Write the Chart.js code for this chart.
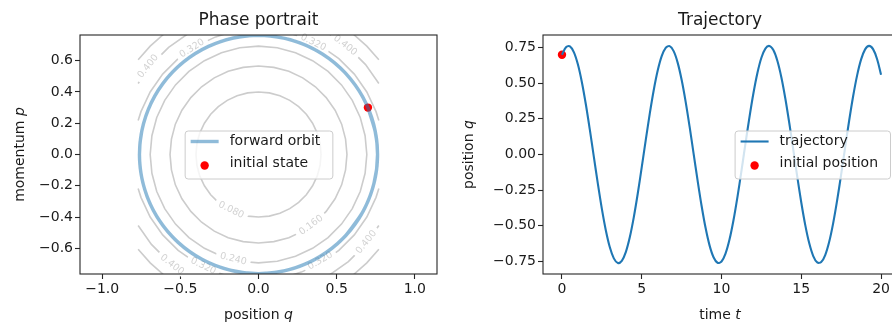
<!DOCTYPE html>
<html>
<head>
<meta charset="utf-8">
<script src="https://cdn.jsdelivr.net/npm/chart.js@4/dist/chart.umd.min.js"></script>
<style>
  html, body { margin: 0; padding: 0; background: #fff; overflow: hidden; width: 892px; height: 322px; }
  #phase { position: absolute; left: 0; top: 0; }
  #traj { position: absolute; left: 446px; top: 0; }
</style>
</head>
<body>
<canvas id="phase" width="446" height="322"></canvas>
<canvas id="traj" width="460" height="322"></canvas>
<script>
// sampled trajectory (time, position q, momentum p)
const timeT = [0,0.25,0.5,0.75,1,1.25,1.5,1.75,2,2.25,2.5,2.75,3,3.25,3.5,3.75,4,4.25,4.5,4.75,
  5,5.25,5.5,5.75,6,6.25,6.5,6.75,7,7.25,7.5,7.75,8,8.25,8.5,8.75,9,9.25,9.5,9.75,
  10,10.25,10.5,10.75,11,11.25,11.5,11.75,12,12.25,12.5,12.75,13,13.25,13.5,13.75,14,14.25,14.5,14.75,
  15,15.25,15.5,15.75,16,16.25,16.5,16.75,17,17.25,17.5,17.75,18,18.25,18.5,18.75,19,19.25,19.5,19.75,20];
const posQ = [0.7,0.7525,0.7581,0.7167,0.6307,0.5054,0.3488,0.1704,
  -0.0185,-0.2063,-0.3813,-0.5325,-0.6507,-0.7283,-0.7608,-0.7459,
  -0.6846,-0.5808,-0.4408,-0.2735,-0.0891,0.1008,0.2844,0.4504,
  0.5883,0.6897,0.7481,0.7601,0.7248,0.6445,0.524,0.371,
  0.195,0.0068,-0.1819,-0.3592,-0.5142,-0.6372,-0.7206,-0.7592,
  -0.7506,-0.6953,-0.5968,-0.4612,-0.2969,-0.1142,0.0757,0.2608,
  0.4297,0.5719,0.6786,0.743,0.7613,0.7322,0.6576,0.5421,
  0.3929,0.2193,0.032,-0.1572,-0.3367,-0.4952,-0.623,-0.712,
  -0.7567,-0.7544,-0.7052,-0.6122,-0.481,-0.32,-0.1391,0.0505,
  0.2369,0.4086,0.5549,0.6667,0.7371,0.7616,0.7387,0.67,0.5595];
const momP = [0.3,0.1175,-0.0723,-0.2576,-0.4269,-0.5697,-0.677,-0.7423,
  -0.7614,-0.7331,-0.6593,-0.5445,-0.3958,-0.2225,-0.0354,0.1539,
  0.3337,0.4927,0.621,0.7108,0.7563,0.7549,0.7065,0.6142,
  0.4836,0.3231,0.1424,-0.0471,-0.2337,-0.4058,-0.5526,-0.6651,
  -0.7362,-0.7615,-0.7395,-0.6716,-0.5618,-0.4172,-0.2465,-0.0606,
  0.1291,0.3108,0.4731,0.6061,0.7013,0.753,0.7578,0.7155,
  0.6288,0.5029,0.3458,0.1671,-0.0219,-0.2095,-0.3842,-0.5349,
  -0.6524,-0.7293,-0.7609,-0.7452,-0.6831,-0.5786,-0.4381,-0.2703,
  -0.0858,0.1041,0.2875,0.4531,0.5904,0.6911,0.7488,0.7599,
  0.7238,0.6427,0.5216,0.3681,0.1917,0.0034,-0.1851,-0.3621,-0.5166];
const initialState = [0.7, 0.3];

// energy contour lines, [q, p] points
const level008 = [[0.4,0],[0.394,0.069],[0.376,0.137],[0.346,0.2],[0.306,0.257],[0.257,0.306],[0.2,0.346],[0.137,0.376],[0.069,0.394],[0,0.4],
  [-0.069,0.394],[-0.137,0.376],[-0.2,0.346],[-0.257,0.306],[-0.306,0.257],[-0.346,0.2],[-0.376,0.137],[-0.394,0.069],[-0.4,0],
  [-0.394,-0.069],[-0.376,-0.137],[-0.346,-0.2],[-0.306,-0.257],[-0.257,-0.306],[-0.2,-0.346],[-0.137,-0.376],[-0.069,-0.394],[0,-0.4],
  [0.069,-0.394],[0.137,-0.376],[0.2,-0.346],[0.257,-0.306],[0.306,-0.257],[0.346,-0.2],[0.376,-0.137],[0.394,-0.069],[0.4,0]];
const level016 = [[0.566,0],[0.557,0.098],[0.532,0.194],[0.49,0.283],[0.433,0.364],[0.364,0.433],[0.283,0.49],[0.194,0.532],[0.098,0.557],[0,0.566],
  [-0.098,0.557],[-0.194,0.532],[-0.283,0.49],[-0.364,0.433],[-0.433,0.364],[-0.49,0.283],[-0.532,0.194],[-0.557,0.098],[-0.566,0],
  [-0.557,-0.098],[-0.532,-0.194],[-0.49,-0.283],[-0.433,-0.364],[-0.364,-0.433],[-0.283,-0.49],[-0.194,-0.532],[-0.098,-0.557],[0,-0.566],
  [0.098,-0.557],[0.194,-0.532],[0.283,-0.49],[0.364,-0.433],[0.433,-0.364],[0.49,-0.283],[0.532,-0.194],[0.557,-0.098],[0.566,0]];
const level024 = [[0.693,0],[0.682,0.12],[0.651,0.237],[0.6,0.346],[0.531,0.445],[0.445,0.531],[0.346,0.6],[0.237,0.651],[0.12,0.682],[0,0.693],
  [-0.12,0.682],[-0.237,0.651],[-0.346,0.6],[-0.445,0.531],[-0.531,0.445],[-0.6,0.346],[-0.651,0.237],[-0.682,0.12],[-0.693,0],
  [-0.682,-0.12],[-0.651,-0.237],[-0.6,-0.346],[-0.531,-0.445],[-0.445,-0.531],[-0.346,-0.6],[-0.237,-0.651],[-0.12,-0.682],[0,-0.693],
  [0.12,-0.682],[0.237,-0.651],[0.346,-0.6],[0.445,-0.531],[0.531,-0.445],[0.6,-0.346],[0.651,-0.237],[0.682,-0.12],[0.693,0]];
const level032 = [
  [[0.77,0.217],[0.752,0.274],[0.693,0.4],[0.613,0.514],[0.514,0.613],[0.4,0.693],[0.274,0.752],[0.217,0.77]],
  [[-0.217,0.77],[-0.274,0.752],[-0.4,0.693],[-0.514,0.613],[-0.613,0.514],[-0.693,0.4],[-0.752,0.274],[-0.77,0.217]],
  [[-0.77,-0.217],[-0.752,-0.274],[-0.693,-0.4],[-0.613,-0.514],[-0.514,-0.613],[-0.4,-0.693],[-0.274,-0.752],[-0.217,-0.77]],
  [[0.217,-0.77],[0.274,-0.752],[0.4,-0.693],[0.514,-0.613],[0.613,-0.514],[0.693,-0.4],[0.752,-0.274],[0.77,-0.217]]];
const level040 = [
  [[0.77,0.454],[0.685,0.575],[0.575,0.685],[0.454,0.77]],
  [[-0.454,0.77],[-0.575,0.685],[-0.685,0.575],[-0.77,0.454]],
  [[-0.77,-0.454],[-0.685,-0.575],[-0.575,-0.685],[-0.454,-0.77]],
  [[0.454,-0.77],[0.575,-0.685],[0.685,-0.575],[0.77,-0.454]]];
const level048 = [
  [[0.77,0.606],[0.693,0.693],[0.606,0.77]],
  [[-0.606,0.77],[-0.693,0.693],[-0.77,0.606]],
  [[-0.77,-0.606],[-0.693,-0.693],[-0.606,-0.77]],
  [[0.606,-0.77],[0.693,-0.693],[0.77,-0.606]]];

// ticks
const phaseXTicks = [-1, -0.5, 0, 0.5, 1];
const phaseYTicks = [-0.6, -0.4, -0.2, 0, 0.2, 0.4, 0.6];
const trajXTicks = [0, 5, 10, 15, 20];
const trajYTicks = [-0.75, -0.5, -0.25, 0, 0.25, 0.5, 0.75];

const FONT = "'DejaVu Sans', sans-serif";
const INK = '#1a1a1a';
const BLUE = '#1f77b4';

const fmt = d => v => (Math.abs(v) < 1e-9 ? 0 : v).toFixed(d).replace('-', '\u2212');

function axis(min, max, ticks, digits, size) {
  return {
    type: 'linear', min: min, max: max,
    afterBuildTicks: s => { s.ticks = ticks.map(v => ({ value: v })); },
    afterFit: s => { if (s.isHorizontal()) s.height = size; else s.width = size; },
    grid: { drawOnChartArea: false, drawTicks: true, tickLength: 5, tickWidth: 1.1, tickColor: '#262626' },
    border: { display: false },
    ticks: { autoSkip: false, maxRotation: 0, padding: 2, color: INK, font: { size: 14, family: FONT }, callback: fmt(digits) }
  };
}

// draw text pieces centred on the origin, some of them italic
function drawParts(ctx, parts, size) {
  const fonts = parts.map(p => (p[1] ? 'italic ' : '') + size + 'px ' + FONT);
  const widths = parts.map((p, i) => { ctx.font = fonts[i]; return ctx.measureText(p[0]).width; });
  let x = -widths.reduce((a, b) => a + b, 0) / 2;
  parts.forEach((p, i) => { ctx.font = fonts[i]; ctx.fillText(p[0], x, 0); x += widths[i]; });
}

const framePlugin = {
  id: 'frame',
  afterDatasetsDraw(chart, args, o) {
    const { ctx, chartArea: a } = chart;
    ctx.save();
    ctx.strokeStyle = '#262626';
    ctx.lineWidth = 1.1;
    ctx.strokeRect(a.left, a.top, a.right - a.left, a.bottom - a.top);
    ctx.fillStyle = INK;
    ctx.textAlign = 'left';
    ctx.textBaseline = 'alphabetic';
    const mid = (a.left + a.right) / 2;
    ctx.save(); ctx.translate(mid, a.top - 10); drawParts(ctx, [[o.title, false]], 17); ctx.restore();
    ctx.save(); ctx.translate(mid, o.xBase); drawParts(ctx, o.xTitle, 14); ctx.restore();
    ctx.save(); ctx.translate(o.yBase, (a.top + a.bottom) / 2); ctx.rotate(-Math.PI / 2); drawParts(ctx, o.yTitle, 14); ctx.restore();
    ctx.restore();
  }
};

const boxLegend = {
  id: 'boxLegend',
  afterDraw(chart, args, o) {
    const { ctx, chartArea: a } = chart;
    const items = chart.data.datasets.filter(d => d.inLegend);
    ctx.save();
    ctx.font = '14px ' + FONT;
    const textW = Math.max(...items.map(d => ctx.measureText(d.label).width));
    const w = textW + 57, h = 48;
    const x = o.place === 'right' ? a.right - 7 - w : (a.left + a.right) / 2 - w / 2;
    const y = (a.top + a.bottom) / 2 - h / 2;
    ctx.beginPath();
    ctx.roundRect(x + 0.5, y + 0.5, w, h, 3);
    ctx.fillStyle = 'rgba(255,255,255,0.8)';
    ctx.fill();
    ctx.strokeStyle = '#cccccc';
    ctx.lineWidth = 1;
    ctx.stroke();
    items.forEach((d, i) => {
      const cy = y + 11 + i * 22;
      if (d.showLine) {
        ctx.beginPath();
        ctx.moveTo(x + 6, cy);
        ctx.lineTo(x + 34, cy);
        ctx.strokeStyle = d.borderColor;
        ctx.lineWidth = d.borderWidth;
        ctx.stroke();
      } else {
        ctx.beginPath();
        ctx.arc(x + 20, cy + 2, d.pointRadius, 0, Math.PI * 2);
        ctx.fillStyle = d.backgroundColor;
        ctx.fill();
      }
      ctx.fillStyle = INK;
      ctx.textAlign = 'left';
      ctx.textBaseline = 'middle';
      ctx.fillText(d.label, x + 45, cy);
    });
    ctx.restore();
  }
};

// inline contour labels, drawn before the point and orbit layers
const contourLabels = {
  id: 'contourLabels',
  beforeDatasetDraw(chart, args, o) {
    if (!o.spots || args.index !== 1) return;
    const { ctx } = chart;
    const xs = chart.scales.x, ys = chart.scales.y;
    const cx = xs.getPixelForValue(0), cy = ys.getPixelForValue(0);
    ctx.save();
    ctx.font = '9.5px ' + FONT;
    o.spots.forEach(([level, q, p]) => {
      const px = xs.getPixelForValue(q), py = ys.getPixelForValue(p);
      let ang = Math.atan2(py - cy, px - cx) + Math.PI / 2;
      while (ang > Math.PI / 2) ang -= Math.PI;
      while (ang <= -Math.PI / 2) ang += Math.PI;
      const text = level.toFixed(3);
      const w = ctx.measureText(text).width;
      ctx.save();
      ctx.translate(px, py);
      ctx.rotate(ang);
      ctx.fillStyle = '#fff';
      ctx.fillRect(-w / 2 - 4, -4, w + 8, 8);
      ctx.fillStyle = '#d2d2d2';
      ctx.textAlign = 'center';
      ctx.textBaseline = 'middle';
      ctx.fillText(text, 0, 0);
      ctx.restore();
    });
    ctx.restore();
  }
};

const toPts = arr => arr.map(([q, p]) => ({ x: q, y: p }));
const contourSet = [level008, level016, level024, ...level032, ...level040, ...level048].map(arc => ({
  label: 'contour', data: toPts(arc), showLine: true, borderColor: '#cccccc', borderWidth: 1.6,
  pointRadius: 0, tension: 0, order: 2, clip: 0
}));

new Chart(document.getElementById('phase'), {
  type: 'scatter',
  data: {
    datasets: [
      { label: 'forward orbit', data: posQ.map((q, i) => ({ x: q, y: momP[i] })), showLine: true,
        borderColor: 'rgba(31,119,180,0.5)', borderWidth: 3.4, pointRadius: 0, tension: 0.33,
        order: 0, clip: 0, inLegend: true },
      { label: 'initial state', data: [{ x: initialState[0], y: initialState[1] }], showLine: false,
        backgroundColor: 'red', borderColor: 'red', pointBackgroundColor: 'red', pointRadius: 4.2,
        pointBorderWidth: 0, order: 1, inLegend: true },
      ...contourSet
    ]
  },
  options: {
    responsive: false, animation: false, events: [],
    layout: { padding: { left: 0, right: 9, top: 35, bottom: 0 } },
    scales: {
      x: axis(-1.142, 1.142, phaseXTicks, 1, 48),
      y: axis(-0.764, 0.764, phaseYTicks, 1, 80)
    },
    plugins: {
      legend: { display: false }, tooltip: { enabled: false },
      frame: { title: 'Phase portrait', xTitle: [['position ', false], ['q', true]], xBase: 319,
        yTitle: [['momentum ', false], ['p', true]], yBase: 24 },
      boxLegend: { place: 'center' },
      contourLabels: { spots: [
        [0.08, -0.175, -0.355], [0.16, 0.337, -0.452], [0.24, -0.162, -0.668],
        [0.32, -0.354, -0.713], [0.32, 0.395, -0.68], [0.32, -0.425, 0.678], [0.32, 0.35, 0.716],
        [0.40, -0.553, -0.705], [0.40, 0.69, -0.56], [0.40, -0.706, 0.563], [0.40, 0.555, 0.697]
      ] }
    }
  },
  plugins: [contourLabels, framePlugin, boxLegend]
});

new Chart(document.getElementById('traj'), {
  type: 'scatter',
  data: {
    datasets: [
      { label: 'trajectory', data: timeT.map((t, i) => ({ x: t, y: posQ[i] })), showLine: true,
        borderColor: BLUE, borderWidth: 2.1, pointRadius: 0, tension: 0.33, order: 0, inLegend: true },
      { label: 'initial position', data: [{ x: timeT[0], y: initialState[0] }], showLine: false,
        backgroundColor: 'red', borderColor: 'red', pointBackgroundColor: 'red', pointRadius: 4.2,
        pointBorderWidth: 0, order: 1, inLegend: true }
    ]
  },
  options: {
    responsive: false, animation: false, events: [],
    layout: { padding: { left: 0, right: 9, top: 35, bottom: 0 } },
    scales: {
      x: axis(-1.19, 21, trajXTicks, 0, 48),
      y: axis(-0.838, 0.838, trajYTicks, 2, 97)
    },
    plugins: {
      legend: { display: false }, tooltip: { enabled: false },
      frame: { title: 'Trajectory', xTitle: [['time ', false], ['t', true]], xBase: 319,
        yTitle: [['position ', false], ['q', true]], yBase: 27 },
      boxLegend: { place: 'right' }
    }
  },
  plugins: [framePlugin, boxLegend]
});
</script>
</body>
</html>
